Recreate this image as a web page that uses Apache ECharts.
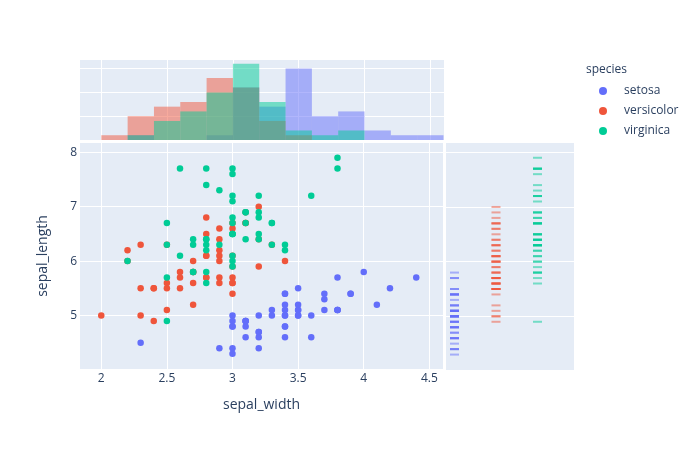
<!DOCTYPE html>
<html>
<head>
<meta charset="utf-8">
<script src="https://cdn.jsdelivr.net/npm/echarts@6/dist/echarts.min.js"></script>
<style>html,body{margin:0;padding:0;background:#fff}#chart{width:700px;height:450px}</style>
</head>
<body>
<div id="chart"></div>
<script>
const species = ['setosa', 'versicolor', 'virginica']
const colors = ['#636efa', '#EF553B', '#00cc96']

const setosaWidth = [3.5,3.0,3.2,3.1,3.6,3.9,3.4,3.4,2.9,3.1,3.7,3.4,3.0,3.0,4.0,4.4,3.9,3.5,3.8,3.8,3.4,3.7,3.6,3.3,3.4,3.0,3.4,3.5,3.4,3.2,3.1,3.4,4.1,4.2,3.1,3.2,3.5,3.1,3.0,3.4,3.5,2.3,3.2,3.5,3.8,3.0,3.8,3.2,3.7,3.3]
const setosaLength = [5.1,4.9,4.7,4.6,5.0,5.4,4.6,5.0,4.4,4.9,5.4,4.8,4.8,4.3,5.8,5.7,5.4,5.1,5.7,5.1,5.4,5.1,4.6,5.1,4.8,5.0,5.0,5.2,5.2,4.7,4.8,5.4,5.2,5.5,4.9,5.0,5.5,4.9,4.4,5.1,5.0,4.5,4.4,5.0,5.1,4.8,5.1,4.6,5.3,5.0]
const versicolorWidth = [3.2,3.2,3.1,2.3,2.8,2.8,3.3,2.4,2.9,2.7,2.0,3.0,2.2,2.9,2.9,3.1,3.0,2.7,2.2,2.5,3.2,2.8,2.5,2.8,2.9,3.0,2.8,3.0,2.9,2.6,2.4,2.4,2.7,2.7,3.0,3.4,3.1,2.3,3.0,2.5,2.6,3.0,2.6,2.3,2.7,3.0,2.9,2.9,2.5,2.8]
const versicolorLength = [7.0,6.4,6.9,5.5,6.5,5.7,6.3,4.9,6.6,5.2,5.0,5.9,6.0,6.1,5.6,6.7,5.6,5.8,6.2,5.6,5.9,6.1,6.3,6.1,6.4,6.6,6.8,6.7,6.0,5.7,5.5,5.5,5.8,6.0,5.4,6.0,6.7,6.3,5.6,5.5,5.5,6.1,5.8,5.0,5.6,5.7,5.7,6.2,5.1,5.7]
const virginicaWidth = [3.3,2.7,3.0,2.9,3.0,3.0,2.5,2.9,2.5,3.6,3.2,2.7,3.0,2.5,2.8,3.2,3.0,3.8,2.6,2.2,3.2,2.8,2.8,2.7,3.3,3.2,2.8,3.0,2.8,3.0,2.8,3.8,2.8,2.8,2.6,3.0,3.4,3.1,3.0,3.1,3.1,3.1,2.7,3.2,3.3,3.0,2.5,3.0,3.4,3.0]
const virginicaLength = [6.3,5.8,7.1,6.3,6.5,7.6,4.9,7.3,6.7,7.2,6.5,6.4,6.8,5.7,5.8,6.4,6.5,7.7,7.7,6.0,6.9,5.6,7.7,6.3,6.7,7.2,6.2,6.1,6.4,7.2,7.4,7.9,6.4,6.3,6.1,7.7,6.3,6.4,6.0,6.9,6.7,6.9,5.8,6.8,6.7,6.7,6.3,6.5,6.2,5.9]

const widths = [setosaWidth, versicolorWidth, virginicaWidth]
const lengths = [setosaLength, versicolorLength, virginicaLength]

// histogram bins (plotly auto bins: size 0.2 starting at 2.0)
const binStart = 2.0
const binSize = 0.2
const binCount = 13

const xTicks = [2, 2.5, 3, 3.5, 4, 4.5]
const yTicks = [5, 6, 7, 8]
const histTicks = [5, 10, 15]

const xRange = [1.838, 4.604]
const yRange = [4.018, 8.17]

const textColor = '#2a3f5f'
const bg = '#E5ECF6'
const font = '"Open Sans", verdana, arial, sans-serif'

function histBins(values) {
  const counts = new Array(binCount).fill(0)
  values.forEach(function (v) {
    const i = Math.floor((v - binStart) / binSize + 1e-6)
    if (i >= 0 && i < binCount) counts[i]++
  })
  const out = []
  counts.forEach(function (c, i) {
    if (c > 0) out.push([binStart + i * binSize, binStart + (i + 1) * binSize, c])
  })
  return out
}

const chart = echarts.init(document.getElementById('chart'), null, { renderer: 'canvas' })

const splitLine = { show: true, lineStyle: { color: '#fff', width: 1 } }

const series = []
species.forEach(function (name, k) {
  series.push({
    type: 'scatter',
    name: name,
    xAxisIndex: 1,
    yAxisIndex: 1,
    symbol: 'circle',
    symbolSize: 6.5,
    itemStyle: { color: colors[k], opacity: 1 },
    data: widths[k].map(function (w, i) { return [w, lengths[k][i]] }),
    z: 3
  })
})
species.forEach(function (name, k) {
  series.push({
    type: 'custom',
    name: name,
    xAxisIndex: 0,
    yAxisIndex: 0,
    itemStyle: { color: colors[k] },
    data: histBins(widths[k]),
    encode: { x: [0, 1], y: 2 },
    renderItem: function (params, api) {
      const p0 = api.coord([api.value(0), api.value(2)])
      const p1 = api.coord([api.value(1), 0])
      return {
        type: 'rect',
        shape: { x: p0[0], y: p0[1], width: p1[0] - p0[0], height: p1[1] - p0[1] },
        style: { fill: colors[k], opacity: 0.5 }
      }
    },
    z: 2
  })
})
species.forEach(function (name, k) {
  series.push({
    type: 'scatter',
    name: name,
    xAxisIndex: 2,
    yAxisIndex: 2,
    symbol: 'rect',
    symbolSize: [9, 2],
    itemStyle: { color: colors[k], opacity: 0.5 },
    data: lengths[k].map(function (l) { return [k, l] }),
    z: 3
  })
})

chart.setOption({
  animation: false,
  textStyle: { fontFamily: font },
  title: {
    text: 'species',
    left: 586,
    top: 64,
    padding: 0,
    textStyle: { fontSize: 12, fontWeight: 'normal', color: textColor, fontFamily: font }
  },
  legend: {
    data: species,
    orient: 'vertical',
    left: 599,
    top: 85,
    padding: 0,
    icon: 'circle',
    itemWidth: 8,
    itemHeight: 8,
    itemGap: 8,
    textStyle: { fontSize: 12, color: textColor, fontFamily: font, padding: [0, 0, 0, 12] }
  },
  grid: [
    { left: 80, top: 60, width: 364, height: 80, backgroundColor: bg, show: true, borderWidth: 0, outerBoundsMode: 'none' },
    { left: 80, top: 143, width: 363, height: 226, backgroundColor: bg, show: true, borderWidth: 0, outerBoundsMode: 'none' },
    { left: 446, top: 143, width: 128, height: 227, backgroundColor: bg, show: true, borderWidth: 0, outerBoundsMode: 'none' }
  ],
  xAxis: [
    {
      type: 'value', gridIndex: 0, min: xRange[0], max: xRange[1],
      axisLine: { show: false },
      axisTick: { show: false, customValues: xTicks },
      axisLabel: { show: false, customValues: xTicks },
      splitLine: splitLine
    },
    {
      type: 'value', gridIndex: 1, min: xRange[0], max: xRange[1],
      name: 'sepal_width', nameLocation: 'middle', nameGap: 29,
      nameTextStyle: { fontSize: 14, color: textColor, fontFamily: font },
      axisLine: { show: false },
      axisTick: { show: false, customValues: xTicks },
      axisLabel: { color: textColor, fontSize: 12, margin: 4, customValues: xTicks, fontFamily: font },
      splitLine: splitLine
    },
    {
      type: 'value', gridIndex: 2, min: -0.205, max: 2.88,
      axisLine: { show: false },
      axisTick: { show: false },
      axisLabel: { show: false },
      splitLine: { show: false }
    }
  ],
  yAxis: [
    {
      type: 'value', gridIndex: 0, min: 0, max: 16.8,
      axisLine: { show: false },
      axisTick: { show: false, customValues: histTicks },
      axisLabel: { show: false, customValues: histTicks },
      splitLine: splitLine
    },
    {
      type: 'value', gridIndex: 1, min: yRange[0], max: yRange[1],
      name: 'sepal_length', nameLocation: 'middle', nameGap: 30,
      nameTextStyle: { fontSize: 14, color: textColor, fontFamily: font },
      axisLine: { show: false },
      axisTick: { show: false, customValues: yTicks },
      axisLabel: { color: textColor, fontSize: 12, margin: 3, customValues: yTicks, fontFamily: font },
      splitLine: splitLine
    },
    {
      type: 'value', gridIndex: 2, min: yRange[0], max: yRange[1],
      axisLine: { show: false },
      axisTick: { show: false, customValues: yTicks },
      axisLabel: { show: false, customValues: yTicks },
      splitLine: splitLine
    }
  ],
  series: series
})
</script>
</body>
</html>
